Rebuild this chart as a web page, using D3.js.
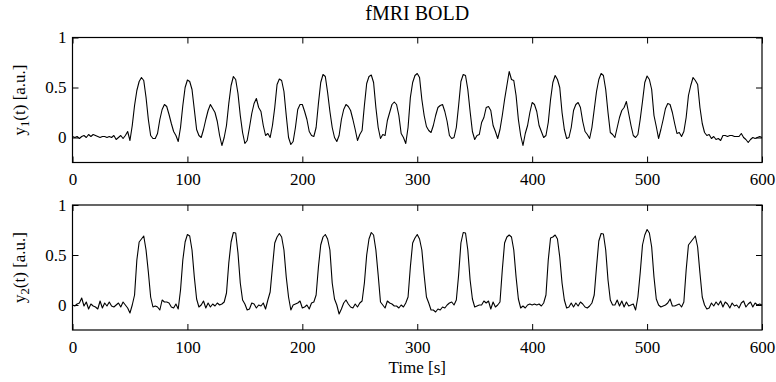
<!DOCTYPE html>
<html>
<head>
<meta charset="utf-8">
<script src="https://cdn.jsdelivr.net/npm/d3@7"></script>
<style>
  html, body { margin: 0; padding: 0; background: #fff; }
  svg text { font-family: "Liberation Serif", "Times New Roman", serif; fill: #000; }
</style>
</head>
<body>
<svg id="chart" width="776" height="382"></svg>
<script>
// Sample times (s), TR = 2 s
const time = d3.range(0, 601, 2);

// y1(t) [a.u.]
const y1 = [
  0.01,0.0,0.01,-0.01,0.01,0.02,0.0,0.03,0.01,0.03,
  0.02,0.01,0.0,0.01,0.01,0.0,0.01,0.0,0.02,-0.02,
  0.0,0.02,-0.01,0.02,0.06,-0.03,0.12,0.32,0.47,0.56,
  0.60,0.57,0.40,0.18,0.02,-0.01,-0.01,0.04,0.18,0.28,
  0.33,0.31,0.23,0.14,0.06,0.02,-0.04,0.10,0.32,0.50,
  0.575,0.56,0.48,0.28,0.08,0.02,0.0,0.08,0.18,0.27,
  0.33,0.29,0.25,0.16,0.02,-0.08,0.0,0.12,0.34,0.52,
  0.61,0.58,0.44,0.22,0.05,-0.06,-0.03,0.10,0.24,0.34,
  0.39,0.30,0.26,0.12,0.02,0.04,0.0,0.12,0.30,0.53,
  0.585,0.57,0.46,0.22,0.0,-0.07,-0.04,0.10,0.28,0.33,
  0.33,0.26,0.18,0.06,0.02,0.01,0.10,0.34,0.55,0.63,
  0.61,0.45,0.26,0.10,0.0,-0.04,0.02,0.18,0.28,0.33,
  0.31,0.27,0.18,0.08,-0.03,0.03,0.07,0.32,0.54,0.61,
  0.625,0.55,0.30,0.10,-0.01,0.03,0.02,0.17,0.25,0.33,
  0.355,0.33,0.22,0.04,0.0,-0.06,0.10,0.40,0.55,0.62,
  0.64,0.60,0.38,0.22,0.11,0.07,0.05,0.12,0.22,0.30,
  0.32,0.33,0.26,0.16,0.02,-0.01,0.0,0.10,0.32,0.56,
  0.63,0.62,0.48,0.26,0.06,-0.02,0.02,0.03,0.15,0.20,
  0.30,0.31,0.27,0.12,0.06,-0.01,0.08,0.22,0.38,0.52,
  0.66,0.58,0.57,0.42,0.18,0.02,-0.08,0.04,0.12,0.25,
  0.35,0.33,0.26,0.12,0.06,0.0,0.02,0.15,0.38,0.55,
  0.62,0.58,0.50,0.25,0.08,-0.01,0.0,0.10,0.27,0.33,
  0.35,0.30,0.16,0.06,0.03,-0.01,0.10,0.28,0.46,0.58,
  0.64,0.62,0.48,0.25,0.05,0.03,0.0,0.10,0.20,0.27,
  0.30,0.36,0.24,0.12,0.02,0.0,0.03,0.18,0.36,0.55,
  0.615,0.58,0.48,0.22,0.11,-0.01,0.08,0.18,0.29,0.34,
  0.33,0.25,0.14,0.04,0.05,0.01,0.06,0.20,0.42,0.52,
  0.60,0.57,0.53,0.30,0.14,0.05,0.02,0.03,-0.01,0.01,
  -0.02,-0.01,-0.03,0.02,0.02,0.01,0.02,0.02,0.01,0.01,
  0.01,0.04,0.0,-0.02,-0.05,-0.02,0.0,-0.01,0.0,0.01,
  0.0
];

// y2(t) [a.u.]
const y2 = [
  0.0,-0.01,0.01,0.02,0.07,-0.01,0.03,-0.04,0.01,-0.01,
  -0.02,-0.04,0.04,-0.03,0.02,-0.01,0.03,-0.01,-0.02,0.0,
  0.02,-0.02,0.03,0.0,-0.03,-0.08,0.0,0.10,0.45,0.63,
  0.66,0.69,0.55,0.33,0.08,-0.02,-0.01,-0.02,-0.05,0.05,
  0.03,0.03,0.02,-0.02,-0.03,0.01,-0.04,0.15,0.45,0.63,
  0.705,0.69,0.55,0.28,0.06,-0.02,0.0,0.04,-0.03,0.02,
  -0.02,0.01,-0.01,0.02,0.0,0.01,0.03,0.12,0.42,0.63,
  0.725,0.72,0.52,0.22,0.05,0.01,-0.05,-0.04,0.02,0.01,
  -0.03,0.0,-0.01,0.02,-0.04,0.05,0.13,0.38,0.62,0.68,
  0.715,0.68,0.55,0.28,0.08,-0.05,0.0,0.01,0.02,0.04,
  -0.03,-0.02,0.0,-0.04,0.02,0.03,0.10,0.38,0.60,0.68,
  0.705,0.66,0.55,0.22,0.06,0.0,-0.09,-0.04,0.02,0.05,
  0.01,-0.02,-0.03,0.01,-0.02,0.02,0.04,0.22,0.50,0.66,
  0.725,0.70,0.55,0.30,0.03,0.0,-0.03,0.04,0.02,0.01,
  -0.01,-0.01,-0.03,0.0,-0.02,0.02,0.08,0.38,0.62,0.67,
  0.705,0.66,0.55,0.30,0.08,0.02,-0.05,-0.05,-0.07,-0.04,
  -0.05,-0.02,-0.03,0.0,0.02,0.03,0.0,0.05,0.30,0.62,
  0.725,0.72,0.55,0.25,0.06,-0.02,-0.01,0.0,0.0,0.04,
  0.02,0.04,-0.04,0.03,-0.02,0.0,0.03,0.35,0.62,0.68,
  0.70,0.68,0.55,0.28,0.06,-0.03,-0.01,-0.03,0.0,0.01,
  0.0,0.01,0.0,0.01,-0.01,0.02,0.10,0.45,0.67,0.68,
  0.70,0.66,0.48,0.22,0.05,-0.03,-0.02,0.02,-0.02,0.02,
  -0.01,0.03,0.01,-0.02,-0.03,-0.01,0.02,0.10,0.38,0.64,
  0.715,0.71,0.55,0.25,0.05,0.0,0.0,0.05,-0.01,0.04,
  -0.02,0.03,-0.01,0.0,0.01,-0.05,0.08,0.32,0.60,0.70,
  0.755,0.72,0.58,0.28,0.06,0.0,-0.02,-0.01,0.0,0.02,
  0.06,-0.01,-0.01,0.0,0.01,-0.02,0.03,0.35,0.60,0.63,
  0.66,0.69,0.58,0.32,0.08,0.0,-0.04,-0.03,0.02,-0.01,
  0.03,0.0,0.04,-0.02,0.03,0.01,-0.03,0.02,-0.01,0.0,
  -0.03,0.02,0.04,-0.02,0.01,0.03,-0.02,0.02,0.0,0.01,
  0.0
];

const xTicks = [0, 100, 200, 300, 400, 500, 600];
const yTicks = [0, 0.5, 1];
const yTickLabels = ["0", "0.5", "1"];
const titleText = "fMRI BOLD";
const xLabelText = "Time [s]";
const yLabels = [["y", "1", "(t) [a.u.]"], ["y", "2", "(t) [a.u.]"]];

const svg = d3.select("#chart");
const L = 72.5, R = 762;
const panels = [
  { data: y1, top: 37.5, bottom: 162.5, label: yLabels[0] },
  { data: y2, top: 205, bottom: 330, label: yLabels[1] }
];
const x = d3.scaleLinear().domain([0, 600]).range([L, R]);
const FS = 17;

panels.forEach((p, i) => {
  const y = d3.scaleLinear().domain([-0.25, 1]).range([p.bottom, p.top]);
  const g = svg.append("g");

  // line
  const line = d3.line().x((d, k) => x(time[k])).y(d => y(d));
  g.append("path").datum(p.data)
    .attr("d", line).attr("fill", "none")
    .attr("stroke", "#000").attr("stroke-width", 1.1)
    .attr("stroke-linejoin", "round");

  // axes with inward ticks
  const bottomAx = d3.axisBottom(x).tickValues(xTicks).tickSize(-6).tickPadding(10.5).tickFormat(d3.format("d"));
  const topAx = d3.axisTop(x).tickValues(xTicks).tickSize(-6).tickFormat("");
  const leftAx = d3.axisLeft(y).tickValues(yTicks).tickSize(-6).tickPadding(6).tickFormat((d, k) => yTickLabels[k]);
  const rightAx = d3.axisRight(y).tickValues(yTicks).tickSize(-6).tickFormat("");

  const ga = [
    g.append("g").attr("transform", `translate(0,${p.bottom})`).call(bottomAx),
    g.append("g").attr("transform", `translate(0,${p.top})`).call(topAx),
    g.append("g").attr("transform", `translate(${L},0)`).call(leftAx),
    g.append("g").attr("transform", `translate(${R},0)`).call(rightAx)
  ];
  ga.forEach(a => {
    a.select(".domain").remove();
    a.selectAll("line").attr("stroke", "#000").attr("stroke-width", 1);
    a.selectAll("text").style("font-size", FS + "px").style("font-family", '"Liberation Serif", serif');
  });

  // frame
  g.append("rect").attr("x", L).attr("y", p.top)
    .attr("width", R - L).attr("height", p.bottom - p.top)
    .attr("fill", "none").attr("stroke", "#000").attr("stroke-width", 1.2);

  // y label
  const yl = g.append("text")
    .attr("transform", `translate(25,${(p.top + p.bottom) / 2}) rotate(-90)`)
    .attr("text-anchor", "middle").style("font-size", FS + "px");
  yl.append("tspan").text(p.label[0]);
  yl.append("tspan").attr("dy", 4).style("font-size", (FS * 0.75) + "px").text(p.label[1]);
  yl.append("tspan").attr("dy", -4).text(p.label[2]);
});

svg.append("text").attr("x", (L + R) / 2).attr("y", 20)
  .attr("text-anchor", "middle").style("font-size", "20px").text(titleText);

svg.append("text").attr("x", (L + R) / 2).attr("y", 373)
  .attr("text-anchor", "middle").style("font-size", FS + "px").text(xLabelText);
</script>
</body>
</html>
